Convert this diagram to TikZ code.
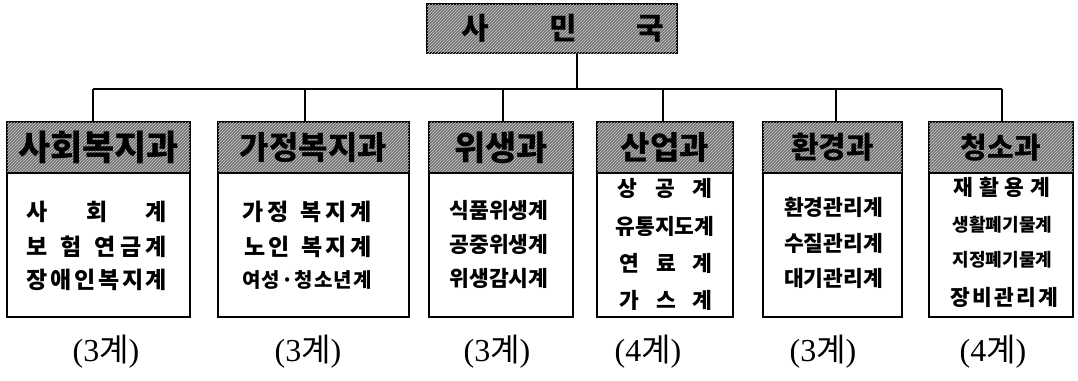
\documentclass[tikz,border=0pt]{standalone}
\usepackage{fontspec}
\usetikzlibrary{patterns}
\newfontfamily\kr{Noto Sans CJK KR}
\newfontfamily\ser{Liberation Serif}
\newcommand\fs[1]{\fontsize{#1}{#1}\selectfont}
\tikzset{
  conn/.style={line width=2pt},
  hatch/.style={fill=black!55, postaction={pattern=north east lines, pattern color=white!80!black}},
  topbox/.style={draw, line width=1.6pt, hatch, minimum width=250pt, minimum height=49pt, inner sep=0pt, font=\kr\bfseries\fs{30}},
  hdr/.style={draw, line width=1.6pt, hatch, minimum height=51pt, inner sep=0pt, font=\kr\bfseries\fs{32}},
  bodybox/.style={draw, line width=1.6pt, minimum height=144pt, inner sep=0pt},
  row/.style={inner sep=0pt, font=\kr\bfseries\fs{21.5}},
  cnt/.style={inner sep=0pt, font=\fs{32}},
}
\begin{document}
\begin{tikzpicture}[x=1pt,y=-1pt]
\useasboundingbox (0,0) rectangle (1078,380);
% top
\node[topbox] (top) at (552,28.5) {\hspace{22pt}사\hspace{60pt}민\hspace{60pt}국};
% headers
\node[hdr, minimum width=183pt, font=\kr\bfseries\fs{35}] (h1) at (98.5,147.5) {사회복지과};
\node[hdr, minimum width=191pt] (h2) at (313.5,147.5) {가정복지과};
\node[hdr, minimum width=144pt, font=\kr\bfseries\fs{34}] (h3) at (501,147.5) {위생과};
\node[hdr, minimum width=136pt] (h4) at (665,147.5) {산업과};
\node[hdr, minimum width=139pt, font=\kr\bfseries\fs{30}] (h5) at (832.5,147.5) {환경과};
\node[hdr, minimum width=144pt, font=\kr\bfseries\fs{29}] (h6) at (1001,147.5) {청소과};
% bodies
\node[bodybox, minimum width=183pt] (b1) at (98.5,245) {};
\node[bodybox, minimum width=191pt] (b2) at (313.5,245) {};
\node[bodybox, minimum width=144pt] (b3) at (501,245) {};
\node[bodybox, minimum width=136pt] (b4) at (665,245) {};
\node[bodybox, minimum width=139pt] (b5) at (832.5,245) {};
\node[bodybox, minimum width=144pt] (b6) at (1001,245) {};
% rows box 1
\node[row, font=\kr\bfseries\fs{23}] (r11) at (97,212) {\makebox[140pt][s]{사\hfill 회\hfill 계}};
\node[row, font=\kr\bfseries\fs{23}] (r12) at (97,247) {\makebox[140pt][s]{보\hfil\hfil\hfil 험\hfil\hfil\hfil 연\hfil 금\hfil 계}};
\node[row, font=\kr\bfseries\fs{23}] (r13) at (97,280) {\makebox[140pt][s]{장\hfil 애\hfil 인\hfil 복\hfil 지\hfil 계}};
% rows box 2
\node[row, font=\kr\bfseries\fs{23}] (r21) at (307,212) {\makebox[130pt][s]{가\hfil 정\hfil\hfil\hfil 복\hfil 지\hfil 계}};
\node[row, font=\kr\bfseries\fs{23}] (r22) at (308,247) {\makebox[128pt][s]{노\hfil 인\hfil\hfil\hfil 복\hfil 지\hfil 계}};
\node[row, font=\kr\bfseries\fs{20}] (r23) at (307,280) {\makebox[130pt][s]{여\hfil 성\hfil ·\hfil 청\hfil 소\hfil 년\hfil 계}};
% rows box 3
\node[row] (r31) at (499,210) {식품위생계};
\node[row] (r32) at (499,244) {공중위생계};
\node[row] (r33) at (499,278) {위생감시계};
% rows box 4
\node[row] (r41) at (665,188) {\makebox[95pt][s]{상\hfill 공\hfill 계}};
\node[row] (r42) at (665,226) {유통지도계};
\node[row] (r43) at (666,263) {\makebox[93pt][s]{연\hfill 료\hfill 계}};
\node[row] (r44) at (666,300) {\makebox[93pt][s]{가\hfill 스\hfill 계}};
% rows box 5
\node[row] (r51) at (833.5,207) {환경관리계};
\node[row] (r52) at (833.5,243) {수질관리계};
\node[row] (r53) at (833.5,278) {대기관리계};
% rows box 6
\node[row] (r61) at (1002,187) {\makebox[97pt][s]{재\hfil 활\hfil 용\hfil 계}};
\node[row, font=\kr\bfseries\fs{18}] (r62) at (1002.5,225) {생활폐기물계};
\node[row, font=\kr\bfseries\fs{18}] (r63) at (1002.5,260) {지정폐기물계};
\node[row] (r64) at (1004,297) {\makebox[108pt][s]{장\hfil 비\hfil 관\hfil 리\hfil 계}};
% counts
\node[cnt] (c1) at (106,352) {{\ser(3}{\kr 계}{\ser)}};
\node[cnt] (c2) at (308,352) {{\ser(3}{\kr 계}{\ser)}};
\node[cnt] (c3) at (497,352) {{\ser(3}{\kr 계}{\ser)}};
\node[cnt] (c4) at (648,352) {{\ser(4}{\kr 계}{\ser)}};
\node[cnt] (c5) at (823,352) {{\ser(3}{\kr 계}{\ser)}};
\node[cnt] (c6) at (993,352) {{\ser(4}{\kr 계}{\ser)}};
% connectors
\coordinate (stem) at (577,89);
\coordinate (d1) at (93,89);
\coordinate (d2) at (305,89);
\coordinate (d3) at (503,89);
\coordinate (d4) at (663,89);
\coordinate (d5) at (836,89);
\coordinate (d6) at (1002,89);
\draw[conn] (top.south -| stem) -- (stem);
\draw[conn] (d1) -- (d6);
\foreach \i in {1,...,6} { \draw[conn] (d\i) -- (d\i |- h\i.north); }
\end{tikzpicture}
\end{document}
